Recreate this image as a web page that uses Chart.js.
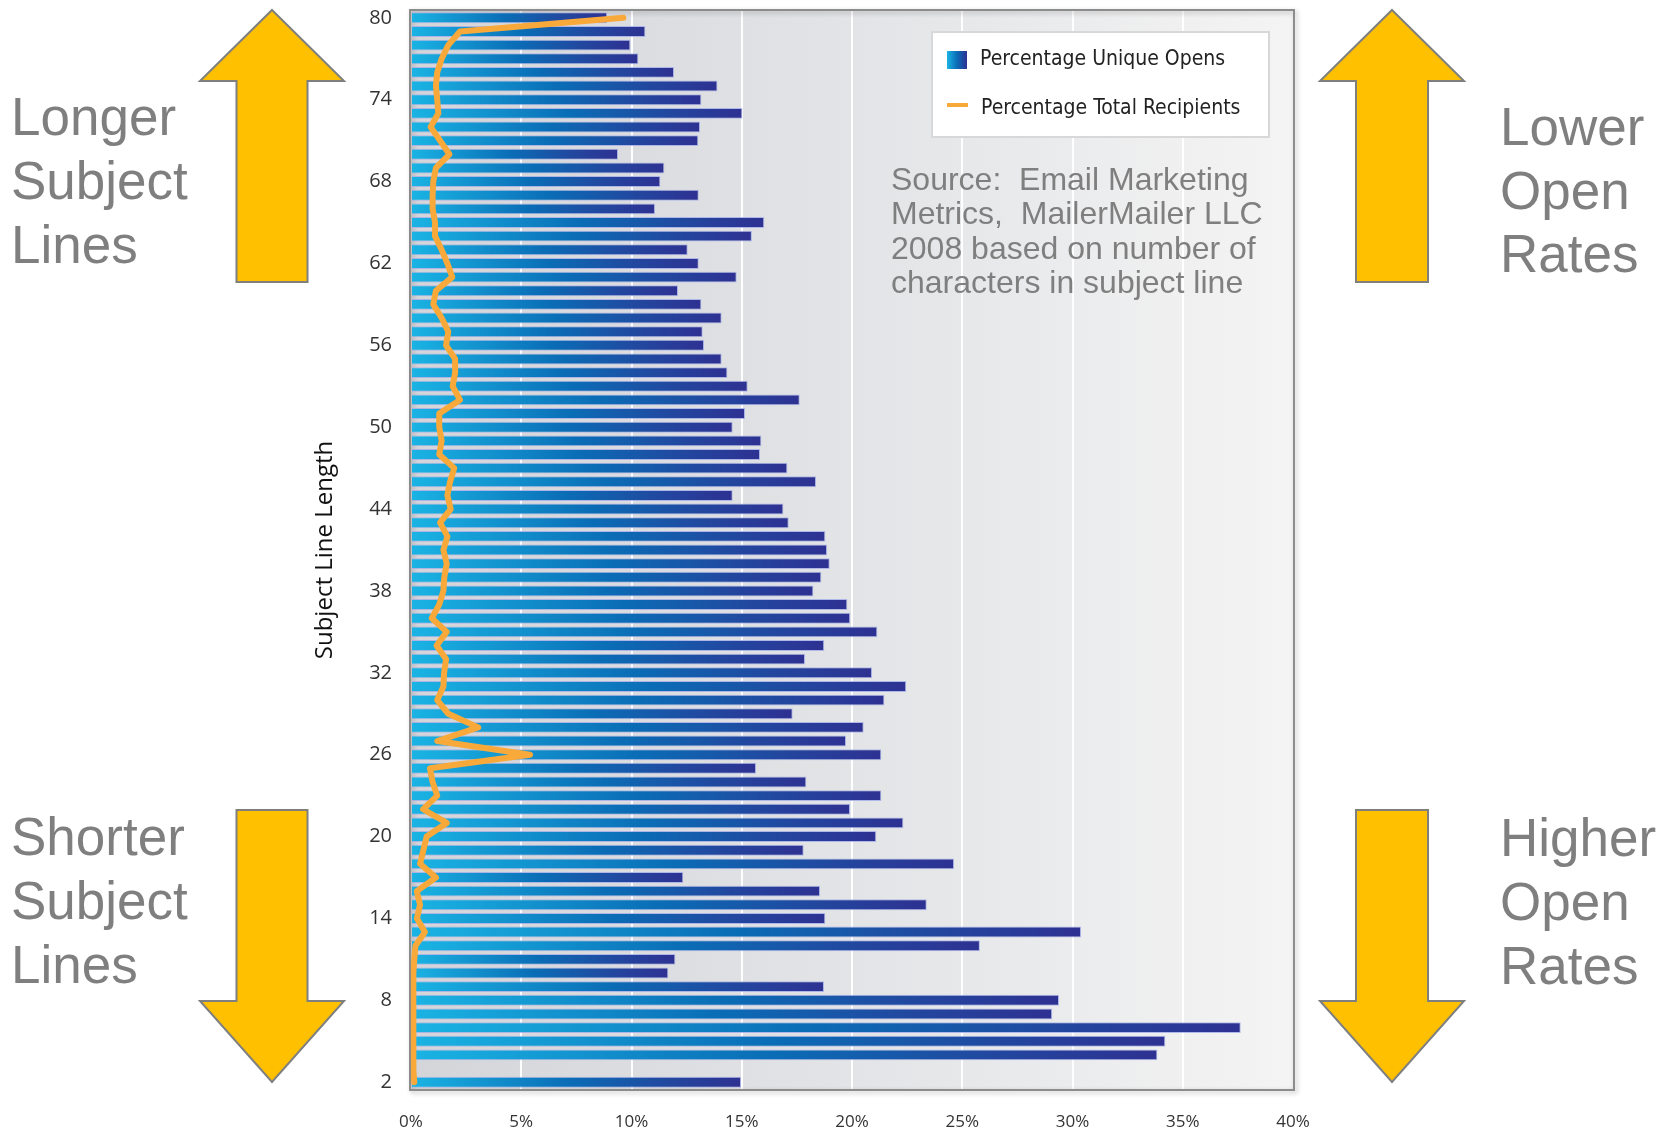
<!DOCTYPE html>
<html>
<head>
<meta charset="utf-8">
<title>Subject Line Length vs Open Rates</title>
<script src="https://cdn.jsdelivr.net/npm/chart.js@4.4.1/dist/chart.umd.min.js"></script>
<style>
  html, body { margin: 0; padding: 0; background: #ffffff; }
  #wrap { position: relative; width: 1669px; height: 1136px; }
  canvas { display: block; }
</style>
</head>
<body>
<div id="wrap"><canvas id="chart" width="1669" height="1136"></canvas></div>
<script>
// Subject line length in characters (category axis)
const subjectLengths = [
  2, 3, 4, 5, 6, 7, 8, 9, 10, 11, 12, 13, 14, 15, 16, 17, 18, 19, 20,
  21, 22, 23, 24, 25, 26, 27, 28, 29, 30, 31, 32, 33, 34, 35, 36, 37, 38, 39, 40,
  41, 42, 43, 44, 45, 46, 47, 48, 49, 50, 51, 52, 53, 54, 55, 56, 57, 58, 59, 60,
  61, 62, 63, 64, 65, 66, 67, 68, 69, 70, 71, 72, 73, 74, 75, 76, 77, 78, 79, 80
];

// Percentage unique opens per subject line length (no data for 3 characters)
const uniqueOpens = [
  14.97, null, 33.85, 34.21, 37.63, 29.08, 29.39, 18.73, 11.67, 11.99, 25.80,
  30.39, 18.79, 23.39, 18.55, 12.35, 24.63, 17.81, 21.10, 22.33, 19.91,
  21.33, 17.93, 15.65, 21.33, 19.73, 20.53, 17.31, 21.47, 22.46, 20.91,
  17.87, 18.74, 21.15, 19.92, 19.79, 18.25, 18.61, 18.99, 18.87, 18.79,
  17.13, 16.89, 14.59, 18.37, 17.07, 15.83, 15.89, 14.59, 15.15, 17.63,
  15.27, 14.35, 14.09, 13.29, 13.23, 14.09, 13.17, 12.11, 14.77, 13.05,
  12.55, 15.46, 16.02, 11.07, 13.05, 11.31, 11.49, 9.39, 13.03, 13.11,
  15.03, 13.17, 13.90, 11.93, 10.31, 9.95, 10.63, 8.90
];

// Percentage of total recipients per subject line length
const totalRecipients = [
  0.15, 0.10, 0.10, 0.10, 0.10, 0.10, 0.10, 0.12, 0.12, 0.15, 0.20,
  0.63, 0.27, 0.41, 0.26, 1.13, 0.41, 0.56, 0.71, 1.62, 0.55,
  1.19, 0.98, 0.86, 5.40, 1.19, 3.05, 1.69, 1.19, 1.47, 1.50,
  1.59, 1.16, 1.62, 0.94, 1.28, 1.47, 1.51, 1.62, 1.47, 1.65,
  1.32, 1.80, 1.65, 1.77, 1.96, 1.28, 1.39, 1.28, 1.28, 2.22,
  1.89, 2.00, 2.00, 1.59, 1.69, 1.39, 1.01, 1.13, 1.87, 1.65,
  1.39, 1.09, 1.09, 0.98, 0.98, 1.01, 1.13, 1.74, 1.32, 0.89,
  1.24, 1.19, 1.13, 1.19, 1.39, 1.69, 2.22, 9.63
];

// Lengths that carry a tick label on the y axis
const tickLabels = ['2', '8', '14', '20', '26', '32', '38', '44', '50', '56', '62', '68', '74', '80'];

const seriesNames = ['Percentage Unique Opens', 'Percentage Total Recipients'];

const ORANGE = '#f8a93a';
const GREY_TEXT = '#7f7f7f';
const ARROW_FILL = '#ffc000';

// Each bar runs from cyan at its base to deep indigo at its tip
function barFill(ctx) {
  const chart = ctx.chart;
  if (!chart.chartArea || ctx.raw == null || !chart.scales.x) return '#0a6fb6';
  const xs = chart.scales.x;
  const x0 = xs.getPixelForValue(0);
  const x1 = xs.getPixelForValue(ctx.raw);
  const g = chart.ctx.createLinearGradient(x0, 0, x1, 0);
  g.addColorStop(0, '#1ab4e4');
  g.addColorStop(0.48, '#0a6db6');
  g.addColorStop(0.78, '#22479f');
  g.addColorStop(1, '#2e3192');
  return g;
}

// Grey plot background, lighter toward the right
const plotBackground = {
  id: 'plotBackground',
  beforeDraw(chart) {
    const { ctx, chartArea: a } = chart;
    ctx.save();
    const g = ctx.createLinearGradient(a.left, 0, a.right, 0);
    g.addColorStop(0, '#d4d5d9');
    g.addColorStop(0.6, '#e6e7e9');
    g.addColorStop(1, '#f4f4f4');
    ctx.fillStyle = g;
    ctx.fillRect(a.left, a.top, a.right - a.left, a.bottom - a.top);
    ctx.restore();
  }
};

// Frame around the plot with a soft drop shadow
const plotFrame = {
  id: 'plotFrame',
  beforeDatasetsDraw(chart) {
    const { ctx, chartArea: a } = chart;
    ctx.save();
    ctx.shadowColor = 'rgba(0,0,0,0.28)';
    ctx.shadowBlur = 5;
    ctx.shadowOffsetX = 2;
    ctx.shadowOffsetY = 2;
    ctx.strokeStyle = '#8c8c8c';
    ctx.lineWidth = 2;
    ctx.strokeRect(a.left - 1, a.top - 1, a.right - a.left + 2, a.bottom - a.top + 2);
    ctx.restore();
  }
};

function drawArrow(ctx, pts) {
  ctx.beginPath();
  ctx.moveTo(pts[0][0], pts[0][1]);
  for (let i = 1; i < pts.length; i++) ctx.lineTo(pts[i][0], pts[i][1]);
  ctx.closePath();
  ctx.fillStyle = ARROW_FILL;
  ctx.fill();
  ctx.strokeStyle = '#7f7f7f';
  ctx.lineWidth = 2;
  ctx.stroke();
}

function upArrow(cx, tipY, baseY, bottomY, headHalf, shaftHalf) {
  return [
    [cx, tipY], [cx + headHalf, baseY], [cx + shaftHalf, baseY], [cx + shaftHalf, bottomY],
    [cx - shaftHalf, bottomY], [cx - shaftHalf, baseY], [cx - headHalf, baseY]
  ];
}

function downArrow(cx, topY, baseY, tipY, headHalf, shaftHalf) {
  return [
    [cx - shaftHalf, topY], [cx + shaftHalf, topY], [cx + shaftHalf, baseY], [cx + headHalf, baseY],
    [cx, tipY], [cx - headHalf, baseY], [cx - shaftHalf, baseY]
  ];
}

function textLines(ctx, lines, x, baselines) {
  lines.forEach((t, i) => ctx.fillText(t, x, baselines[i]));
}

// Legend box, source note, side arrows and captions
const decorations = {
  id: 'decorations',
  afterDraw(chart) {
    const ctx = chart.ctx;
    ctx.save();

    // legend
    const bx = 932, by = 32, bw = 337, bh = 105;
    ctx.fillStyle = '#ffffff';
    ctx.fillRect(bx, by, bw, bh);
    ctx.strokeStyle = '#d8d8d8';
    ctx.lineWidth = 2;
    ctx.strokeRect(bx, by, bw, bh);

    const sw = ctx.createLinearGradient(947, 0, 967, 0);
    sw.addColorStop(0, '#1ab4e4');
    sw.addColorStop(0.5, '#0a6db6');
    sw.addColorStop(1, '#2e3192');
    ctx.fillStyle = sw;
    ctx.fillRect(947, 51, 20, 18);

    ctx.strokeStyle = ORANGE;
    ctx.lineWidth = 4;
    ctx.beginPath();
    ctx.moveTo(947, 105);
    ctx.lineTo(968, 105);
    ctx.stroke();

    ctx.fillStyle = '#222222';
    ctx.font = '21px "DejaVu Sans Condensed", "DejaVu Sans", sans-serif';
    ctx.textBaseline = 'middle';
    ctx.textAlign = 'left';
    ctx.fillText(chart.data.datasets[1].label, 980, 60);
    ctx.fillText(chart.data.datasets[0].label, 981, 109);

    // source note
    ctx.textBaseline = 'alphabetic';
    ctx.fillStyle = GREY_TEXT;
    ctx.font = '32px "Liberation Sans", Arial, sans-serif';
    textLines(ctx, [
      'Source:  Email Marketing',
      'Metrics,  MailerMailer LLC',
      '2008 based on number of',
      'characters in subject line'
    ], 891, [190, 224, 259, 293]);

    // arrows
    drawArrow(ctx, upArrow(272, 10, 81, 282, 72, 35.5));
    drawArrow(ctx, downArrow(272, 810, 1001, 1082, 72, 35.5));
    drawArrow(ctx, upArrow(1392, 10, 81, 282, 72, 36));
    drawArrow(ctx, downArrow(1392, 810, 1001, 1082, 72, 36));

    // captions beside the arrows
    ctx.fillStyle = GREY_TEXT;
    ctx.font = '53px "Liberation Sans", Arial, sans-serif';
    textLines(ctx, ['Longer', 'Subject', 'Lines'], 11, [135, 199, 263]);
    textLines(ctx, ['Shorter', 'Subject', 'Lines'], 11, [855, 919, 983]);
    textLines(ctx, ['Lower', 'Open', 'Rates'], 1500, [145, 209, 272]);
    textLines(ctx, ['Higher', 'Open', 'Rates'], 1500, [856, 920, 984]);

    ctx.restore();
  }
};

const chart = new Chart(document.getElementById('chart'), {
  type: 'bar',
  data: {
    labels: subjectLengths.map(String),
    datasets: [
      {
        type: 'line',
        label: seriesNames[1],
        data: totalRecipients,
        borderColor: ORANGE,
        backgroundColor: ORANGE,
        borderWidth: 6,
        borderCapStyle: 'round',
        borderJoinStyle: 'round',
        pointRadius: 0,
        tension: 0,
        fill: false,
        order: 0
      },
      {
        type: 'bar',
        label: seriesNames[0],
        data: uniqueOpens,
        backgroundColor: barFill,
        borderColor: 'rgba(165,175,232,0.85)',
        borderWidth: 1,
        barPercentage: 0.8,
        categoryPercentage: 1,
        order: 1
      }
    ]
  },
  options: {
    indexAxis: 'y',
    responsive: false,
    animation: false,
    layout: { padding: { left: 311, right: 376, top: 11, bottom: 0 } },
    plugins: {
      legend: { display: false },
      tooltip: { enabled: false }
    },
    scales: {
      y: {
        type: 'category',
        reverse: true,
        grid: { display: false, drawTicks: false },
        border: { display: false },
        ticks: {
          autoSkip: false,
          padding: 19,
          color: '#333333',
          font: { family: '"Open Sans", sans-serif', size: 20 },
          callback(value) {
            const lbl = this.getLabelForValue(value);
            return tickLabels.includes(lbl) ? lbl : '';
          }
        },
        title: {
          display: true,
          text: 'Subject Line Length',
          color: '#111111',
          font: { family: '"Open Sans", sans-serif', size: 24 },
          padding: 0
        },
        afterFit(scale) {
          scale.width = 100;
          scale.paddingTop = 0;
          scale.paddingBottom = 0;
        }
      },
      x: {
        type: 'linear',
        min: 0,
        max: 40,
        grid: {
          drawTicks: false,
          lineWidth: 2,
          color: (c) => (c.tick && (c.tick.value === 0 || c.tick.value === 40))
            ? 'rgba(0,0,0,0)' : 'rgba(255,255,255,0.95)'
        },
        border: { display: false },
        ticks: {
          stepSize: 5,
          padding: 23,
          color: '#333333',
          font: { family: '"Open Sans", sans-serif', size: 17 },
          callback: (v) => v + '%'
        },
        afterFit(scale) {
          scale.height = 47;
          scale.paddingLeft = 0;
          scale.paddingRight = 0;
        }
      }
    }
  },
  plugins: [plotBackground, plotFrame, decorations]
});
</script>
</body>
</html>
